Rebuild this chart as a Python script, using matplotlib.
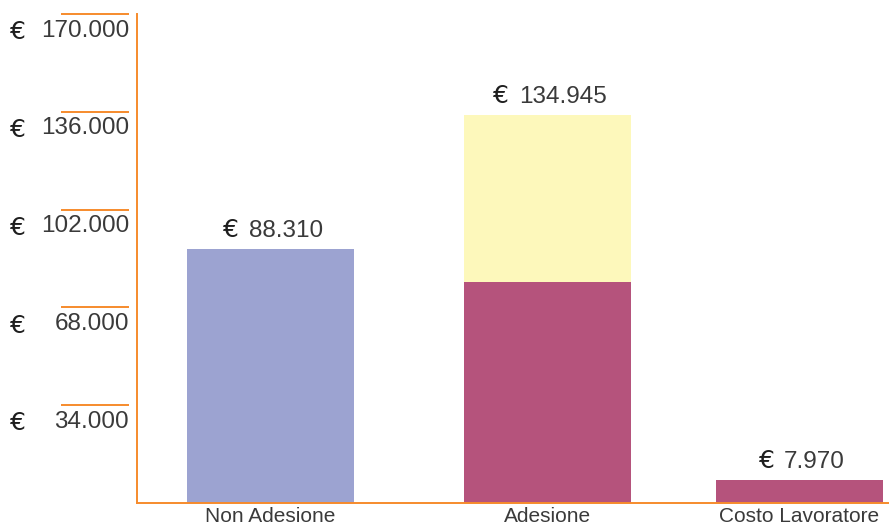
import matplotlib
matplotlib.use("Agg")
import matplotlib.pyplot as plt
import matplotlib.transforms as mtransforms

plt.rcParams["font.family"] = ["Liberation Sans", "DejaVu Sans"]

categories = ["Non Adesione", "Adesione", "Costo Lavoratore"]
base_values = [88310, 77000, 7970]
top_values = [0, 57945, 0]
bar_labels = ["88.310", "134.945", "7.970"]
ytick_values = [34000, 68000, 102000, 136000, 170000]
ytick_labels = ["34.000", "68.000", "102.000", "136.000", "170.000"]

# bars are not evenly spaced in the original
bar_pos = [0, 1, 1.91]

ORANGE = "#F68B2C"
BLUE = "#9CA3D1"
MAROON = "#B5537C"
YELLOW = "#FDF8BB"
TEXT = "#3a3a3a"
EURO = "#1e1e1e"

W, H = 889, 527
fig = plt.figure(figsize=(W / 100, H / 100), dpi=100)
ax = fig.add_axes([137 / W, 24 / H, 1 - 137 / W, 489 / H])

base_colors = [BLUE, MAROON, MAROON]
ax.bar(bar_pos, base_values, width=0.603, color=base_colors, zorder=2)
ax.bar(bar_pos, top_values, width=0.603, bottom=base_values, color=YELLOW, zorder=2)

totals = [b + t for b, t in zip(base_values, top_values)]
for xi, tot, lab in zip(bar_pos, totals, bar_labels):
    t = ax.annotate(lab, (xi, tot), xytext=(11, 5), textcoords="offset points",
                    ha="center", va="bottom", fontsize=17.5, color=TEXT)
    # euro sign drawn separately, just left of the number
    ax.annotate("€", xy=(0, 0), xycoords=t, xytext=(-7, 0),
                textcoords="offset points", ha="right", va="bottom",
                fontsize=18, color=EURO, family="DejaVu Sans")

ax.set_xlim(-0.482, 2.234)
ax.set_ylim(0, 170000)
ax.set_xticks(bar_pos)
ax.set_xticklabels(categories, fontsize=15, color=TEXT)
ax.tick_params(axis="x", length=0, pad=3)
ax.set_yticks([])

for side in ["top", "right"]:
    ax.spines[side].set_visible(False)
for side in ["left", "bottom"]:
    ax.spines[side].set_color(ORANGE)
    ax.spines[side].set_linewidth(1.4)

# custom y ticks: orange line above each label, euro sign on the far left
trans = mtransforms.blended_transform_factory(ax.transAxes, ax.transData)
x0 = (61 - 137) / 752
x1 = (129 - 137) / 752
xe = (10 - 137) / 752
for v, lab in zip(ytick_values, ytick_labels):
    ax.plot([x0, x1], [v, v], transform=trans, color=ORANGE, lw=1.4,
            clip_on=False, solid_capstyle="butt")
    ax.annotate(lab, (x1, v), xycoords=trans, xytext=(0, -4),
                textcoords="offset points", ha="right", va="top",
                fontsize=17.5, color=TEXT, annotation_clip=False)
    ax.annotate("€", (xe, v), xycoords=trans, xytext=(0, -4.5),
                textcoords="offset points", ha="left", va="top",
                fontsize=18, color=EURO, family="DejaVu Sans",
                annotation_clip=False)

fig.savefig("out.png", dpi=100, facecolor="white")
